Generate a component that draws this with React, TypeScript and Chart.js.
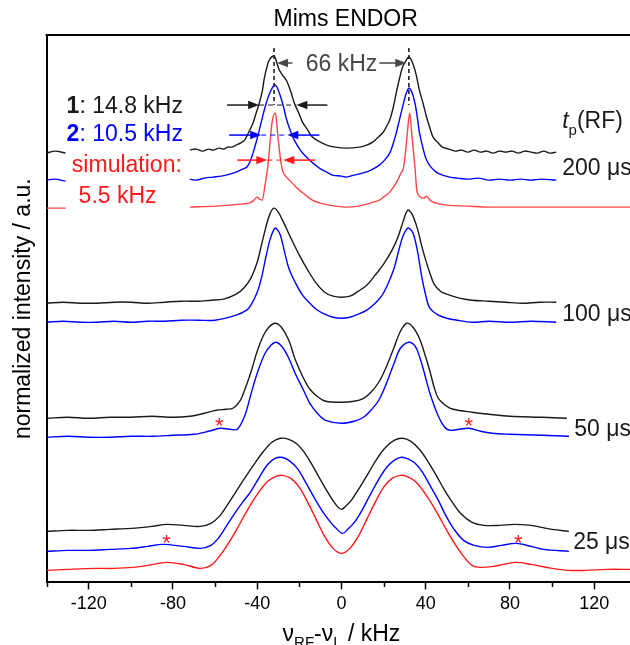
import React, { useEffect, useRef } from "react";
import { Chart, registerables } from "chart.js";

Chart.register(...registerables);

const FONT = '"Liberation Sans", Arial, Helvetica, sans-serif';

// ---- axis definition ----
const X_MIN = -140;
const X_MAX = 137;
const Y_MIN = 0;
const Y_MAX = 547;
const MAJOR_TICKS = [-120, -80, -40, 0, 40, 80, 120];
const MINOR_TICKS = [-140, -100, -60, -20, 20, 60, 100];
const ALL_TICKS = [-140, -120, -100, -80, -60, -40, -20, 0, 20, 40, 60, 80, 100, 120];

// ---- series: [frequency offset (kHz), intensity (a.u., stacked)] ----
const BLACK_200: [number, number | null][] = [
  [-140, 429], [-136, 431], [-131, 429], [-100, null], [-72, 432], [-69, 433], [-66, 431], [-63, 433], [-61, 432],
  [-58, 434], [-56, 433], [-54, 435], [-52, 435], [-50, 437], [-48, 439], [-46, 442], [-44, 450], [-42, 459],
  [-40.5, 469], [-39, 479], [-37.5, 492], [-36.7, 503], [-35.5, 514], [-34.3, 522], [-32, 526], [-30.5, 518],
  [-29.5, 512], [-28, 507], [-26, 501], [-24, 490], [-22.4, 479], [-20.5, 470], [-18.5, 460], [-16, 452],
  [-13.8, 445], [-10, 440], [-7, 437], [-3, 435], [2.4, 434], [8.6, 435], [12, 437], [14.8, 440], [17, 444],
  [19.5, 449], [21, 454], [22.9, 462], [24.5, 474], [26, 489], [27.5, 503], [29, 515], [30.5, 521], [32, 525],
  [33.8, 519], [35.5, 507], [37, 492], [38.7, 479], [40.4, 465], [42, 454], [43.5, 445], [46, 439], [48, 435],
  [51, 433], [54, 431], [57, 432], [60, 430], [63, 432], [66, 430], [69, 431], [72, 429], [75, 431], [78, 430],
  [81, 431], [84, 429], [87, 431], [90, 430], [93, 429], [96, 431], [99, 429], [102, 430],
];
const BLUE_200: [number, number | null][] = [
  [-140, 402], [-136, 403], [-131, 401], [-100, null], [-72, 403], [-69, 402], [-65, 404], [-61, 405], [-57, 406],
  [-53, 408], [-50, 410], [-48, 412], [-45, 415], [-43.5, 420], [-42, 429], [-40.5, 440], [-39, 452],
  [-37.5, 465], [-35.7, 479], [-33.4, 492], [-31.4, 497], [-29.5, 489], [-27.5, 475], [-26, 462], [-24, 450],
  [-22.4, 442], [-19.5, 432], [-16.7, 425], [-13.5, 419], [-10.5, 414], [-7, 410], [-4.3, 407], [0, 406],
  [2.4, 405], [6, 407], [10, 409], [14, 412], [18, 417], [20.5, 422], [22.9, 429], [24.5, 438], [26, 449],
  [27.5, 462], [29, 475], [30.5, 487], [32, 494], [33.4, 490], [34.8, 480], [36, 465], [37, 450], [38.7, 434],
  [40.4, 422], [42.5, 415], [45, 410], [48, 407], [51.4, 405], [55, 404], [60, 403], [65, 404], [70, 402],
  [75, 403], [80, 402], [85, 403], [90, 402], [95, 403], [102, 402],
];
const SIM_200: [number, number | null][] = [
  [-140, 374], [-136, 374], [-131, 374], [-100, null], [-72, 375], [-60, 376], [-53, 377], [-48, 378], [-44, 379],
  [-42, 381], [-40, 385], [-38.8, 383], [-37.6, 382], [-36.3, 397], [-35, 415], [-34, 437], [-33, 459],
  [-31.4, 469], [-30, 442], [-29, 424], [-28, 412], [-26.5, 406], [-24.8, 402], [-22, 396], [-20, 392],
  [-17, 387], [-13.8, 382], [-10, 379], [-5.7, 377], [2.4, 375], [8, 376], [12, 378], [15, 380], [18, 382],
  [20.5, 386], [22.9, 390], [25, 396], [26.7, 402], [28, 408], [29.5, 415], [30.5, 432], [31.4, 452],
  [32.4, 469], [33.3, 450], [34.2, 430], [35, 412], [35.7, 393], [37, 386], [39, 384], [40.5, 386], [42, 382],
  [43.5, 380], [47, 378], [50, 377], [60, 376], [70, 375], [90, 375], [110, 375], [137, 375],
];
const BLACK_100: [number, number | null][] = [
  [-140, 279], [-132, 280], [-124, 279], [-116, 279], [-108, 280], [-100, 280], [-92, 279], [-84, 280], [-76, 281],
  [-68, 281], [-62, 282], [-56, 283], [-50, 288], [-46, 295], [-43, 304], [-40, 320], [-38, 337], [-36, 354],
  [-34, 368], [-32, 374], [-30, 370], [-28, 362], [-24, 344], [-20, 327], [-16, 312], [-12, 299], [-8, 290],
  [-4, 286], [0, 285], [4, 286], [8, 291], [12, 297], [16, 307], [20, 318], [24, 332], [27, 346], [29.5, 362],
  [31.5, 372], [33.5, 368], [36, 354], [38, 337], [40, 322], [42, 309], [44, 298], [47, 291], [50, 288],
  [56, 284], [62, 282], [70, 281], [78, 280], [86, 279], [94, 280], [102, 280],
];
const BLUE_100: [number, number | null][] = [
  [-140, 260], [-132, 261], [-124, 260], [-116, 260], [-108, 261], [-100, 260], [-92, 261], [-84, 261], [-76, 262],
  [-68, 262], [-60, 262], [-50, 267], [-45, 272], [-43, 277], [-40, 290], [-38, 304], [-36, 324], [-34, 342],
  [-32, 353], [-31, 354], [-29, 347], [-27, 330], [-25, 314], [-22, 300], [-18.5, 287], [-15, 279], [-12, 273],
  [-8, 268], [-4, 265], [0, 264], [4, 265], [8, 268], [12, 272], [16, 279], [19, 286], [22, 298], [25, 314],
  [27, 330], [29, 345], [31, 353], [32, 354], [34, 349], [36, 332], [38, 307], [40, 287], [42, 274], [46, 267],
  [50, 264], [55, 262], [62, 260], [70, 261], [80, 260], [90, 261], [102, 260],
];
const BLACK_50: [number, number | null][] = [
  [-140, 164], [-130, 165], [-120, 164], [-110, 165], [-100, 165], [-90, 166], [-80, 165], [-72, 166], [-65, 169],
  [-59.5, 172], [-55, 173], [-51.5, 174], [-48, 182], [-46, 192], [-43, 210], [-40, 231], [-37, 247], [-34.5, 255],
  [-31.5, 259], [-28.5, 255], [-25, 242], [-22, 223], [-18, 204], [-15, 193], [-11, 185], [-7.5, 181], [0, 180],
  [6, 181], [10.5, 184], [14, 190], [17.7, 200], [21, 214], [25, 235], [28, 251], [31, 259], [34, 255],
  [37, 244], [39, 232], [42, 211], [44, 195], [46, 184], [50, 176], [53, 173], [62, 170], [70, 168], [80, 166],
  [95, 165], [107, 164],
];
const BLUE_50: [number, number | null][] = [
  [-140, 145], [-130, 146], [-120, 145], [-110, 145], [-100, 146], [-90, 146], [-80, 147], [-70, 148], [-63, 151],
  [-57.5, 154], [-53, 153], [-49.5, 153], [-46, 166], [-43, 188], [-40, 209], [-36.5, 228], [-33.5, 237],
  [-31, 240], [-28, 235], [-25, 224], [-22, 209], [-18, 192], [-15, 179], [-11, 168], [-7.5, 162], [0, 159],
  [6, 161], [10.5, 165], [14, 172], [17.7, 182], [21, 197], [25, 219], [28, 234], [32, 240], [35, 236],
  [37, 226], [39, 212], [42, 189], [46, 166], [49, 155], [51.5, 152], [56, 153], [60.5, 154], [66, 151],
  [71.5, 149], [80, 148], [95, 147], [108, 146],
];
const BLACK_25: [number, number | null][] = [
  [-140, 51], [-130, 52], [-120, 52], [-110, 53], [-100, 54], [-90, 56], [-83, 58], [-75, 57], [-67, 56],
  [-62, 59], [-58, 66], [-54, 78], [-50, 91], [-46, 104], [-41.5, 118], [-37, 131], [-33, 140], [-29, 144],
  [-25, 143], [-21, 138], [-17, 128], [-13, 114], [-9, 99], [-5, 85], [-2, 76], [0, 73],
  [2, 76], [5, 83], [9, 96], [13, 110], [17, 124], [21, 135], [25, 142], [29, 144], [33, 141], [37, 133],
  [41, 121], [45, 107], [49, 92], [53, 79], [57, 68], [62, 60], [67.6, 57], [75, 57], [82, 58], [90, 57],
  [95, 55], [100, 53], [108, 51],
];
const BLUE_25: [number, number | null][] = [
  [-140, 31], [-130, 32], [-120, 32], [-110, 33], [-100, 34], [-92, 36], [-85, 38], [-75, 36], [-67, 34],
  [-62, 37], [-58.5, 44], [-55, 55], [-51, 68], [-47, 80], [-43, 91], [-39, 105], [-35, 118], [-31.5, 124],
  [-28.5, 125], [-25, 122], [-21, 114], [-17, 100], [-13, 85], [-9, 71], [-5.5, 61], [-2.5, 54], [0.5, 49], [3, 53],
  [6.5, 61], [10, 73], [14, 89], [18, 104], [21.5, 115], [25, 122], [28.5, 125], [32, 123], [35, 119], [38.5, 110],
  [42, 97], [46, 82], [49.5, 67], [53.5, 53], [58, 42], [63, 37], [69.5, 35], [76, 37], [83, 39], [90, 36],
  [96, 33], [108, 31],
];
const SIM_25: [number, number | null][] = [
  [-140, 12], [-130, 13], [-117, 14], [-108, 14], [-99, 15], [-92, 17], [-83, 20], [-75, 18], [-67, 14],
  [-62, 17], [-58, 26], [-54, 38], [-50, 52], [-45, 71], [-40, 88], [-35, 101], [-31, 106], [-28, 107],
  [-24, 104], [-20, 95], [-16, 80], [-12, 63], [-8, 46], [-4, 34], [0, 29], [4, 34], [8, 46], [12, 63],
  [16, 80], [20, 95], [24, 104], [28, 107], [31, 106], [35, 101], [40, 88], [45, 71], [50, 52], [54, 38],
  [58, 26], [62, 17], [66, 15], [72, 16], [77, 18], [83, 20], [90, 18], [100, 14], [108, 12], [116, 12],
  [126, 13], [137, 13],
];

const BLACK = "#1a1a1a";
const BLUE = "#0000ff";
const RED = "#ff1a1a";
const RED_LIGHT = "#ff4545";
const GRAY = "#474747";

const TRACES = [
  { name: "1, 200 µs", data: BLACK_200, color: BLACK, sharp: false },
  { name: "2, 200 µs", data: BLUE_200, color: BLUE, sharp: false },
  { name: "sim, 200 µs", data: SIM_200, color: RED_LIGHT, sharp: true },
  { name: "1, 100 µs", data: BLACK_100, color: BLACK, sharp: false },
  { name: "2, 100 µs", data: BLUE_100, color: BLUE, sharp: false },
  { name: "1, 50 µs", data: BLACK_50, color: BLACK, sharp: false },
  { name: "2, 50 µs", data: BLUE_50, color: BLUE, sharp: false },
  { name: "1, 25 µs", data: BLACK_25, color: BLACK, sharp: false },
  { name: "2, 25 µs", data: BLUE_25, color: BLUE, sharp: false },
  { name: "sim, 25 µs", data: SIM_25, color: RED, sharp: false },
];

// ---- annotations (kHz, a.u.) ----
const PEAK_MARKS = [-32, 32];
const PEAK_MARK_Y = [477, 534];
const SPLITTING = { text: "66 kHz", x: 0, y: 519, arrows: [[-23.3, -30.6], [18, 30.8]] };
const FWHM_ARROWS = [
  { y: 477, color: BLACK, left: [-54.3, -39.1], right: [-6.7, -21.4] },
  { y: 447, color: BLUE, left: [-53.3, -38.1], right: [-10.5, -25.7] },
  { y: 422, color: RED, left: [-49.5, -35.2], right: [-12.4, -27.6] },
];
type Seg = { t: string; bold?: boolean; italic?: boolean; sub?: boolean };
const TEXTS: { segs: Seg[]; x: number; y: number; color: string }[] = [
  { segs: [{ t: "1", bold: true }, { t: ": 14.8 kHz" }], x: -130.5, y: 477, color: BLACK },
  { segs: [{ t: "2", bold: true }, { t: ": 10.5 kHz" }], x: -130.5, y: 449, color: BLUE },
  { segs: [{ t: "simulation:" }], x: -128, y: 418, color: RED },
  { segs: [{ t: "5.5 kHz" }], x: -124.8, y: 387, color: RED },
  { segs: [{ t: "t", italic: true }, { t: "p", sub: true }, { t: "(RF)" }], x: 104.8, y: 462, color: BLACK },
  { segs: [{ t: "200 μs" }], x: 104.8, y: 415, color: BLACK },
  { segs: [{ t: "100 μs" }], x: 104.8, y: 269, color: BLACK },
  { segs: [{ t: "50 μs" }], x: 110.5, y: 155, color: BLACK },
  { segs: [{ t: "25 μs" }], x: 110, y: 42, color: BLACK },
];
const ASTERISKS = [[-58, 162], [60.5, 162], [-83, 45], [84, 45]];
const TITLE = "Mims ENDOR";
const X_TITLE: Seg[] = [{ t: "ν" }, { t: "RF", sub: true }, { t: "-ν" }, { t: "L", sub: true }, { t: " / kHz" }];
const Y_TITLE = "normalized intensity / a.u.";

function fontOf(s: Seg, size: number) {
  const sz = s.sub ? Math.round(size * 0.66) : size;
  return `${s.italic ? "italic " : ""}${s.bold ? "bold " : ""}${sz}px ${FONT}`;
}

function drawRich(ctx: CanvasRenderingContext2D, segs: Seg[], x: number, cy: number, size: number, color: string, align: "left" | "center") {
  let total = 0;
  for (const s of segs) {
    ctx.font = fontOf(s, size);
    total += ctx.measureText(s.t).width;
  }
  let cx = align === "center" ? x - total / 2 : x;
  const base = cy + size * 0.36;
  ctx.fillStyle = color;
  ctx.textAlign = "left";
  ctx.textBaseline = "alphabetic";
  for (const s of segs) {
    ctx.font = fontOf(s, size);
    ctx.fillText(s.t, cx, base + (s.sub ? size * 0.28 : 0));
    cx += ctx.measureText(s.t).width;
  }
}

function arrow(ctx: CanvasRenderingContext2D, x1: number, y1: number, x2: number, y2: number, color: string) {
  const head = 11;
  const hw = 4.2;
  const dx = x2 - x1;
  const dy = y2 - y1;
  const len = Math.hypot(dx, dy) || 1;
  const ux = dx / len;
  const uy = dy / len;
  ctx.setLineDash([]);
  ctx.strokeStyle = color;
  ctx.fillStyle = color;
  ctx.lineWidth = 1.5;
  ctx.beginPath();
  ctx.moveTo(x1, y1);
  ctx.lineTo(x2 - ux * head * 0.8, y2 - uy * head * 0.8);
  ctx.stroke();
  ctx.beginPath();
  ctx.moveTo(x2, y2);
  ctx.lineTo(x2 - ux * head - uy * hw, y2 - uy * head + ux * hw);
  ctx.lineTo(x2 - ux * head + uy * hw, y2 - uy * head - ux * hw);
  ctx.closePath();
  ctx.fill();
}

const annotPlugin = {
  id: "annot",
  afterDraw(chart: any) {
    const { ctx, chartArea } = chart;
    const xs = chart.scales.x;
    const ys = chart.scales.y;
    const px = (v: number) => xs.getPixelForValue(v);
    const py = (v: number) => ys.getPixelForValue(v);
    ctx.save();

    // top frame line
    ctx.strokeStyle = "#000";
    ctx.lineWidth = 2;
    ctx.beginPath();
    ctx.moveTo(chartArea.left - 1, chartArea.top);
    ctx.lineTo(chartArea.right, chartArea.top);
    ctx.stroke();

    // minor ticks
    ctx.lineWidth = 1.5;
    ctx.beginPath();
    for (const v of MINOR_TICKS) {
      const x = Math.round(px(v)) + 0.5;
      ctx.moveTo(x, chartArea.bottom);
      ctx.lineTo(x, chartArea.bottom + 4.5);
    }
    ctx.stroke();

    // dashed peak markers
    ctx.setLineDash([4, 3]);
    ctx.lineWidth = 1.6;
    ctx.strokeStyle = "#222";
    for (const m of PEAK_MARKS) {
      ctx.beginPath();
      ctx.moveTo(px(m), py(PEAK_MARK_Y[1]));
      ctx.lineTo(px(m), py(PEAK_MARK_Y[0]));
      ctx.stroke();
    }

    // splitting label + arrows
    drawRich(ctx, [{ t: SPLITTING.text }], px(SPLITTING.x), py(SPLITTING.y), 23, GRAY, "center");
    for (const [a, b] of SPLITTING.arrows) {
      arrow(ctx, px(a), py(SPLITTING.y), px(b), py(SPLITTING.y), GRAY);
    }

    // FWHM arrows
    for (const f of FWHM_ARROWS) {
      const y = py(f.y);
      arrow(ctx, px(f.left[0]), y, px(f.left[1]), y, f.color);
      arrow(ctx, px(f.right[0]), y, px(f.right[1]), y, f.color);
      ctx.setLineDash([5, 4]);
      ctx.lineWidth = 1;
      ctx.strokeStyle = f.color;
      ctx.beginPath();
      ctx.moveTo(px(f.left[1]), y);
      ctx.lineTo(px(f.right[1]), y);
      ctx.stroke();
      ctx.setLineDash([]);
    }

    // texts
    for (const t of TEXTS) {
      drawRich(ctx, t.segs, px(t.x), py(t.y), 23, t.color, "left");
    }

    // asterisks
    ctx.fillStyle = RED;
    ctx.font = `22px ${FONT}`;
    ctx.textAlign = "center";
    ctx.textBaseline = "alphabetic";
    for (const [ax, ay] of ASTERISKS) {
      ctx.fillText("*", px(ax), py(ay) + 13);
    }

    // title
    drawRich(ctx, [{ t: TITLE }], px(2), chartArea.top - 17, 23, "#000", "center");

    // x-axis title
    drawRich(ctx, X_TITLE, px(0), chartArea.bottom + 50, 23, "#000", "center");

    ctx.restore();
  },
};

export default function App() {
  const ref = useRef<HTMLCanvasElement | null>(null);

  useEffect(() => {
    document.body.style.margin = "0";
    const canvas = ref.current;
    if (!canvas) return;
    const datasets = TRACES.map((t) => ({
      label: t.name,
      data: t.data.map(([x, y]) => ({ x, y })),
      borderColor: t.color,
      backgroundColor: t.color,
      borderWidth: 1.4,
      pointRadius: 0,
      fill: false,
      spanGaps: false,
      tension: 0.35,
      cubicInterpolationMode: (t.sharp ? "monotone" : "default") as any,
    }));
    const chart = new Chart(canvas, {
      type: "line",
      data: { datasets: datasets as any },
      options: {
        animation: false,
        responsive: false,
        layout: { padding: { top: 35, right: 0, left: 0, bottom: 26 } },
        plugins: {
          legend: { display: false },
          tooltip: { enabled: false },
          title: { display: false },
        },
        scales: {
          x: {
            type: "linear",
            min: X_MIN,
            max: X_MAX,
            afterBuildTicks: (scale: any) => {
              scale.ticks = ALL_TICKS.map((v) => ({ value: v }));
            },
            ticks: {
              autoSkip: false,
              maxRotation: 0,
              padding: 4,
              color: "#000",
              font: { family: FONT, size: 18 },
              callback: (v: any) => (MAJOR_TICKS.includes(Number(v)) ? String(v) : ""),
            },
            grid: {
              drawOnChartArea: false,
              drawTicks: true,
              tickLength: 7,
              tickWidth: 1.5,
              color: (c: any) => (c.tick && MAJOR_TICKS.includes(c.tick.value) ? "#000" : "rgba(0,0,0,0)"),
            },
            border: { display: true, color: "#000", width: 2 },
          },
          y: {
            type: "linear",
            min: Y_MIN,
            max: Y_MAX,
            ticks: { display: false },
            grid: { display: false, drawTicks: false },
            border: { display: true, color: "#000", width: 2 },
            title: {
              display: true,
              text: Y_TITLE,
              color: "#000",
              font: { family: FONT, size: 23, lineHeight: 1.2 },
              padding: { top: 10, bottom: 9 },
            },
          },
        },
      },
      plugins: [annotPlugin],
    });
    return () => chart.destroy();
  }, []);

  return (
    <div style={{ width: 630, height: 645, background: "#fff" }}>
      <canvas ref={ref} width={630} height={645} />
    </div>
  );
}
